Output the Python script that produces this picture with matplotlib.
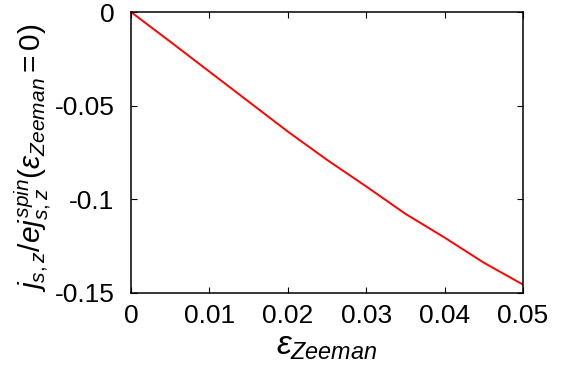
import matplotlib
matplotlib.use("Agg")
import matplotlib.pyplot as plt
import numpy as np

#---------------------------------------------------------------------------------
# Dados

eps_zeeman = [0.0, 0.005, 0.01, 0.015, 0.02, 0.025, 0.03, 0.035, 0.04, 0.045, 0.05]
j_ratio = [0.0, -0.0158, -0.0318, -0.0478, -0.0638, -0.0789, -0.0931, -0.1077, -0.1204, -0.1338, -0.1455]

xticks = [0, 0.01, 0.02, 0.03, 0.04, 0.05]
xtick_labels = ["0", "0.01", "0.02", "0.03", "0.04", "0.05"]
yticks = [0, -0.05, -0.1, -0.15]
ytick_labels = ["0", "-0.05", "-0.1", "-0.15"]

#---------------------------------------------------------------------------------
# Estilo

plt.rcParams['font.family'] = ['Liberation Sans', 'DejaVu Sans']
plt.rcParams['mathtext.fontset'] = 'custom'
plt.rcParams['mathtext.rm'] = 'Liberation Sans'
plt.rcParams['mathtext.it'] = 'Liberation Sans:italic'
plt.rcParams['mathtext.bf'] = 'Liberation Sans:bold'

fig = plt.figure(figsize=(5.67, 3.65), dpi=100)
ax = fig.add_axes([131 / 567, 1 - 293 / 365, 392 / 567, 281 / 365])

ax.plot(eps_zeeman, j_ratio, color="#ff0000", lw=1.4)

ax.set_xlim(0, 0.05)
ax.set_ylim(-0.15, 0)
ax.set_xticks(xticks)
ax.set_xticklabels(xtick_labels)
ax.set_yticks(yticks)
ax.set_yticklabels(ytick_labels)
ax.tick_params(direction="in", top=True, right=True, length=4, width=0.8,
               labelsize=19)
ax.tick_params(axis="y", pad=12)
ax.tick_params(axis="x", pad=8)
for s in ax.spines.values():
    s.set_linewidth(1.1)

ax.set_xlabel(r"$\varepsilon_{Zeeman}$", fontsize=24, labelpad=0)
ax.set_ylabel(r"$j_{s,z}/e j_{s,z}^{spin}(\varepsilon_{Zeeman}\mathrm{=0})$", fontsize=21.5)
ax.yaxis.set_label_coords(-0.2, 0.48)
ax.xaxis.set_label_coords(0.5, -0.135)

fig.savefig("out.png", dpi=100)
